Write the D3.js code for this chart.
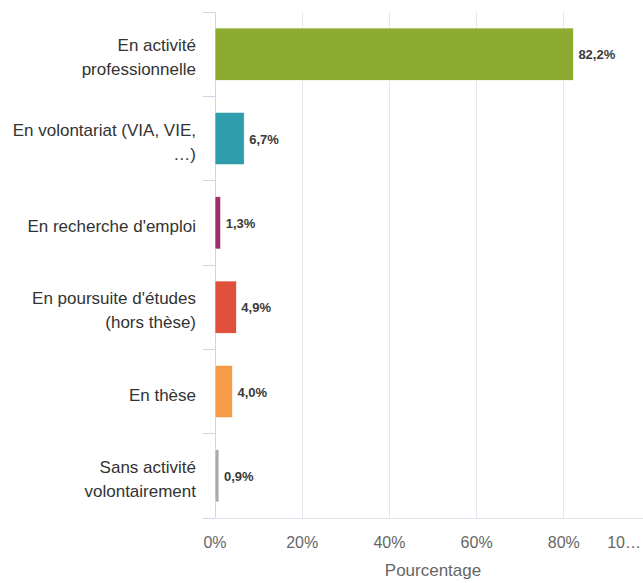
<!DOCTYPE html>
<html>
<head>
<meta charset="utf-8">
<script src="https://cdn.jsdelivr.net/npm/d3@7"></script>
<style>
  body{margin:0;background:#fff;}
  svg{display:block;font-family:"Liberation Sans",Arial,sans-serif;}
</style>
</head>
<body>
<div id="chart"></div>
<script>
// data
var categories = [
  ["En activité", "professionnelle"],
  ["En volontariat (VIA, VIE,", "…)"],
  ["En recherche d'emploi"],
  ["En poursuite d'études", "(hors thèse)"],
  ["En thèse"],
  ["Sans activité", "volontairement"]
];
var values = [82.2, 6.7, 1.3, 4.9, 4.0, 0.9];
var colors = ["#8dab31", "#2f9dab", "#9c2f6c", "#e0503b", "#f69c49", "#aaaaaa"];
var tickValues = [0, 20, 40, 60, 80, 100];
var axisTitle = "Pourcentage";

var W = 643, H = 583;
var margin = {top:12, left:215, bottom:65};
var plotH = H - margin.top - margin.bottom;

var svg = d3.select("#chart").append("svg").attr("width", W).attr("height", H);

var x = d3.scaleLinear().domain([0,100]).range([margin.left, margin.left + 436]);
var y = d3.scaleBand().domain(d3.range(categories.length))
          .range([margin.top, margin.top + plotH]).padding(0);
var band = y.bandwidth();
var barH = band*0.62;

var fmt = function(v){ return d3.format(".1f")(v).replace(".", ",") + "%"; };

// vertical grid lines
svg.append("g").selectAll("line").data(tickValues.slice(1)).enter().append("line")
   .attr("x1", function(d){return x(d)}).attr("x2", function(d){return x(d)})
   .attr("y1", margin.top).attr("y2", margin.top + plotH)
   .attr("stroke", "#e3e6ee").attr("stroke-width", 1)
   .style("shape-rendering","crispEdges");

// bottom line
svg.append("line")
   .attr("x1", margin.left - 12).attr("x2", W)
   .attr("y1", margin.top + plotH).attr("y2", margin.top + plotH)
   .attr("stroke", "#e3e6ee").style("shape-rendering","crispEdges");

// category axis line + ticks at band boundaries
svg.append("line")
   .attr("x1", margin.left).attr("x2", margin.left)
   .attr("y1", margin.top).attr("y2", margin.top + plotH)
   .attr("stroke", "#ccd6eb").style("shape-rendering","crispEdges");

var bounds = d3.range(categories.length + 1).map(function(i){ return margin.top + i*band; });
svg.append("g").selectAll("line").data(bounds).enter().append("line")
   .attr("x1", margin.left - 12).attr("x2", margin.left)
   .attr("y1", function(d){return d}).attr("y2", function(d){return d})
   .attr("stroke", "#ccd6eb").style("shape-rendering","crispEdges");

// bars
var rows = svg.append("g").selectAll("g").data(values).enter().append("g");

rows.append("rect")
    .attr("x", x(0))
    .attr("y", function(d,i){ return y(i) + (band - barH)/2; })
    .attr("width", function(d){ return x(d) - x(0); })
    .attr("height", barH)
    .attr("fill", function(d,i){ return colors[i]; })
    .attr("stroke", "#ffffff").attr("stroke-width", 0.6);

rows.append("text")
    .attr("x", function(d){ return x(d) + 5; })
    .attr("y", function(d,i){ return y(i) + band/2 + 5; })
    .text(function(d){ return fmt(d); })
    .style("font-size", "13px").style("font-weight", "bold").style("fill", "#3a3a3a");

// category labels
var labels = svg.append("g").selectAll("text").data(categories).enter().append("text")
    .attr("text-anchor", "end")
    .style("font-size", "17px").style("fill", "#333333");
labels.each(function(lines, i){
  var t = d3.select(this);
  var first = y(i) + band/2 + 9 - (lines.length - 1)*12;
  lines.forEach(function(s, k){
    t.append("tspan").attr("x", margin.left - 19).attr("y", first + k*24).text(s);
  });
});

// x axis tick labels
var ticks = svg.append("g").selectAll("text").data(tickValues).enter().append("text")
    .attr("x", function(d){ return x(d); })
    .attr("y", margin.top + plotH + 30)
    .attr("text-anchor", "middle")
    .text(function(d){ return d === 100 ? "10…" : d + "%"; })
    .style("font-size", "16px").style("fill", "#666666");
// last label is cut at the right edge
ticks.filter(function(d){ return x(d) > W - 20; })
     .attr("text-anchor", "end").attr("x", W - 2);

svg.append("text")
   .attr("x", (x.range()[0] + x.range()[1])/2)
   .attr("y", H - 7)
   .attr("text-anchor", "middle")
   .text(axisTitle)
   .style("font-size", "17px").style("fill", "#666666");
</script>
</body>
</html>
